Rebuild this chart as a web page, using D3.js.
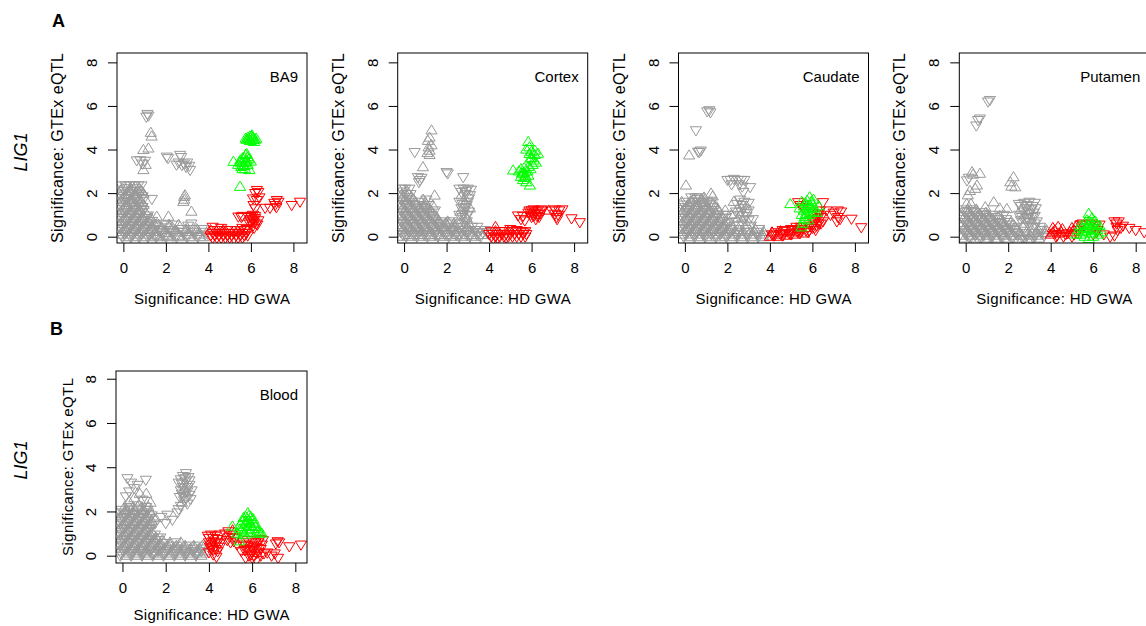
<!DOCTYPE html>
<meta charset="utf-8">
<head>
<title>LIG1: GTEx eQTL vs HD GWA</title>
<script src="https://cdn.jsdelivr.net/npm/d3@7"></script>
<style>
  body { margin: 0; background: #fff; }
  svg { display: block; font-family: Arial, "Liberation Sans", sans-serif; }
  .tick text { font-size: 15px; fill: #000; }
  .tick line { stroke: #000; }
</style>
</head>
<body>
<div id="chart"></div>
<script>
// points: [HD GWA significance, GTEx eQTL significance, 1 = up triangle / 0 = down triangle]
var ticks = [0, 2, 4, 6, 8];
var tissues = ["BA9", "Cortex", "Caudate", "Putamen", "Blood"];

var ba9Gray = [
  [1.13,5.63,0],[1.18,5.55,0],[1.08,5.5,0],[1.29,4.77,1],[1.33,4.6,1],[0.94,3.98,1],[1.18,4.05,1],
  [0.63,3.5,0],[0.8,3.5,0],[1.02,3.48,0],[0.9,3.35,0],[1.05,3.3,1],[0.94,3.06,1],
  [2.04,3.67,0],[2.1,3.6,0],[2.67,3.75,0],[2.72,3.65,0],[2.6,3.4,0],[2.75,3.29,0],[2.85,3.35,0],
  [2.95,3.2,0],[3.0,3.4,0],[3.14,3.06,0],[3.1,3.25,0],[2.5,3.3,0],
  [2.86,1.83,1],[2.86,1.7,1],[2.9,1.9,1],[2.82,1.6,1],[3.2,1.15,1],[1.57,0.92,1],[2.12,0.92,1],[1.34,1.73,0],
  [-0.1,2.35,0],[0.1,2.35,0],[0.3,2.35,0],[0.5,2.35,0],[0.7,2.35,0],[0.85,2.35,0],
  [-0.15,2.1,1],[0.05,2.1,0],[0.25,2.1,1],[0.45,2.1,0],[0.65,2.1,0],[0.85,2.1,1],
  [-0.1,1.85,0],[0.1,1.85,1],[0.3,1.85,0],[0.5,1.85,1],[0.7,1.85,0],[0.9,1.85,0],
  [-0.15,1.6,1],[0.05,1.6,0],[0.25,1.6,0],[0.45,1.6,1],[0.65,1.6,0],[0.85,1.6,1],
  [-0.1,1.35,0],[0.1,1.35,1],[0.3,1.35,0],[0.5,1.35,0],[0.7,1.35,1],[0.9,1.35,0],
  [-0.15,1.1,1],[0.05,1.1,0],[0.25,1.1,1],[0.45,1.1,0],[0.65,1.1,1],[0.85,1.1,0],[1.05,1.1,1],
  [-0.1,0.85,0],[0.1,0.85,1],[0.3,0.85,0],[0.5,0.85,1],[0.7,0.85,0],[0.9,0.85,1],[1.1,0.85,0],[1.3,0.85,1],
  [-0.15,0.6,1],[0.05,0.6,0],[0.25,0.6,1],[0.45,0.6,0],[0.65,0.6,1],[0.85,0.6,0],[1.05,0.6,1],[1.25,0.6,0],[1.45,0.6,1],
  [-0.1,0.35,0],[0.1,0.35,1],[0.3,0.35,0],[0.5,0.35,1],[0.7,0.35,0],[0.9,0.35,1],[1.1,0.35,0],[1.3,0.35,1],[1.5,0.35,0],
  [-0.15,0.1,1],[0.05,0.1,0],[0.25,0.1,1],[0.45,0.1,0],[0.65,0.1,1],[0.85,0.1,0],[1.05,0.1,1],[1.25,0.1,0],[1.45,0.1,1],
  [1.65,0.55,1],[1.9,0.55,0],[2.15,0.55,1],[2.4,0.55,0],[1.7,0.3,0],[1.95,0.3,1],[2.2,0.3,0],[2.45,0.3,1],
  [1.6,0.05,1],[1.85,0.05,0],[2.1,0.05,1],[2.35,0.05,0],[2.6,0.05,1],
  [2.7,0.35,0],[2.95,0.35,1],[3.2,0.35,0],[3.45,0.35,1],[3.7,0.35,0],
  [2.85,0.1,0],[3.1,0.1,1],[3.35,0.1,0],[3.6,0.1,1],[3.85,0.1,0],[3.2,0.6,0],[3.05,0.5,0],[2.6,0.55,1]
];
var ba9GrayFill = [
  [-0.05,2.22,1],[0.15,2.22,0],[0.35,2.22,1],[0.55,2.22,0],[0.75,2.22,1],
  [-0.05,1.97,0],[0.15,1.97,1],[0.35,1.97,0],[0.55,1.97,1],[0.75,1.97,0],[0.95,1.97,1],
  [-0.05,1.72,1],[0.15,1.72,0],[0.35,1.72,1],[0.55,1.72,0],[0.75,1.72,1],[0.95,1.72,0],
  [-0.05,1.47,0],[0.15,1.47,1],[0.35,1.47,0],[0.55,1.47,1],[0.75,1.47,0],[0.95,1.47,1],
  [-0.05,1.22,1],[0.15,1.22,0],[0.35,1.22,1],[0.55,1.22,0],[0.75,1.22,1],[0.95,1.22,0],
  [-0.05,0.97,0],[0.15,0.97,1],[0.35,0.97,0],[0.55,0.97,1],[0.75,0.97,0],[0.95,0.97,1],[1.15,0.97,0],
  [-0.05,0.72,1],[0.15,0.72,0],[0.35,0.72,1],[0.55,0.72,0],[0.75,0.72,1],[0.95,0.72,0],[1.15,0.72,1],[1.35,0.72,0],
  [-0.05,0.47,0],[0.15,0.47,1],[0.35,0.47,0],[0.55,0.47,1],[0.75,0.47,0],[0.95,0.47,1],[1.15,0.47,0],[1.35,0.47,1],[1.55,0.47,0],
  [1.8,0.42,1],[2.05,0.42,0],[2.3,0.42,1],
  [-0.05,0.22,1],[0.15,0.22,0],[0.35,0.22,1],[0.55,0.22,0],[0.75,0.22,1],[0.95,0.22,0],[1.15,0.22,1],[1.35,0.22,0],[1.55,0.22,1],
  [1.8,0.18,0],[2.05,0.18,1],[2.3,0.18,0],[2.55,0.2,1],[2.8,0.22,0],[3.05,0.22,1],[3.3,0.22,0],[3.55,0.22,1],[3.8,0.22,0],
  [-0.05,-0.02,0],[0.15,-0.02,1],[0.35,-0.02,0],[0.55,-0.02,1],[0.75,-0.02,0],[0.95,-0.02,1],[1.15,-0.02,0],[1.35,-0.02,1],[1.55,-0.02,0],
  [1.75,-0.02,1],[2.0,-0.02,0],[2.25,-0.02,1],[2.5,-0.02,0],[2.75,-0.02,1],[3.0,-0.02,0],[3.25,-0.02,1],[3.5,-0.02,0],[3.75,-0.02,1]
];
var ba9Red = [
  [4.1,0.05,0],[4.3,0.05,0],[4.5,0.05,0],[4.7,0.05,0],[4.9,0.05,0],[5.1,0.05,0],[5.3,0.05,0],[5.5,0.05,0],[5.7,0.05,0],[5.85,0.05,0],
  [4.1,0.3,1],[4.3,0.3,0],[4.5,0.3,0],[4.7,0.3,1],[4.9,0.3,0],[5.1,0.3,0],[5.3,0.3,0],[5.5,0.3,0],[5.7,0.3,0],[5.85,0.3,0],
  [4.2,0.45,0],[4.6,0.4,0],[5.0,-0.05,0],[5.2,-0.1,0],[5.6,0.4,0],[5.8,0.35,0],
  [5.9,0.9,0],[6.0,0.7,0],[6.1,0.5,0],[6.2,0.85,0],[6.25,0.6,0],[6.1,1.0,0],[6.35,0.75,0],[6.0,0.95,0],[6.15,0.4,0],[6.3,0.55,0],
  [5.41,0.92,0],[5.55,0.9,0],[5.6,0.95,0],
  [6.28,2.14,0],[6.2,2.0,0],[6.35,2.05,0],[6.28,1.68,0],[6.1,1.75,0],[6.4,1.8,0],[6.12,1.45,0],[6.2,1.3,0],
  [6.67,1.32,0],[6.9,1.32,0],[7.22,1.68,0],[7.14,1.45,0],[7.3,1.6,0],[7.1,1.55,0],[7.2,1.35,0],[7.92,1.45,0],[8.31,1.6,0],
  [4.2,0.17,0],[4.4,0.17,0],[4.6,0.17,0],[4.8,0.17,0],[5.0,0.17,0],[5.2,0.17,0],[5.4,0.17,0],[5.6,0.17,0],[5.8,0.17,0],
  [4.2,-0.05,0],[4.4,-0.05,0],[4.6,-0.05,0],[4.8,-0.05,0],[5.4,-0.05,0],[5.6,-0.05,0],
  [6.05,0.8,0],[6.15,0.65,0],[5.95,0.6,0],[6.2,0.95,0],[6.1,0.75,0]
];
var ba9Green = [
  [6.04,4.59,1],[5.9,4.5,1],[6.1,4.55,1],[6.2,4.45,1],[5.8,4.45,1],[6.0,4.4,1],[6.15,4.35,1],[5.95,4.6,1],[6.05,4.65,1],[6.25,4.5,1],[5.75,4.5,1],
  [5.18,3.44,1],[5.4,3.3,1],[5.5,3.5,1],[5.6,3.4,1],[5.7,3.6,1],[5.75,3.75,1],[5.8,3.5,1],[5.65,3.25,1],[5.85,3.3,1],[5.9,3.55,1],
  [5.55,3.2,1],[5.93,3.06,1],[5.72,3.1,1],[5.8,3.8,1],[6.0,3.45,1],[5.49,2.29,1],
  [5.85,4.55,1],[6.1,4.45,1],[5.95,4.4,1],[5.5,3.4,1],[5.6,3.6,1],[5.75,3.4,1],[5.85,3.65,1],[5.7,3.25,1],[5.6,3.1,1]
];

var cortexGray = [
  [1.29,4.88,1],[1.12,4.4,1],[1.2,4.55,1],[1.29,4.2,1],[1.15,4.1,1],[1.2,3.95,1],[1.1,3.84,1],[1.2,3.75,1],[0.5,3.88,0],[0.89,3.19,1],
  [0.65,2.73,0],[0.75,2.6,0],[0.82,2.7,0],[0.7,2.5,0],[2.0,2.96,0],[2.05,2.9,0],[2.78,2.73,0],[1.44,1.89,1],[1.35,1.43,1],
  [2.6,2.2,0],[2.8,2.2,0],[3.0,2.2,0],[3.15,2.15,0],[2.7,1.9,1],[2.9,1.95,0],[3.1,1.9,0],[2.6,1.6,0],[2.8,1.65,1],[3.0,1.6,0],
  [2.7,1.3,0],[2.9,1.35,0],[3.1,1.3,1],[2.6,1.0,0],[2.8,1.05,0],[3.0,1.0,0],[2.7,0.75,1],[2.95,0.7,0],
  [-0.15,2.2,0],[0.05,2.2,0],[0.25,2.2,0],[-0.1,1.95,1],[0.1,1.95,0],[0.3,1.95,0],
  [-0.15,1.7,0],[0.05,1.7,1],[0.25,1.7,0],[0.45,1.7,1],[0.9,1.7,1],[1.05,1.7,0],
  [-0.1,1.45,1],[0.1,1.45,0],[0.3,1.45,1],[0.5,1.45,0],[0.7,1.45,0],[0.95,1.45,1],[1.15,1.45,0],
  [-0.15,1.2,0],[0.05,1.2,1],[0.25,1.2,0],[0.45,1.2,1],[0.65,1.2,0],[0.85,1.2,1],[1.05,1.2,0],[1.25,1.2,1],[1.45,1.2,0],
  [-0.1,0.95,1],[0.1,0.95,0],[0.3,0.95,1],[0.5,0.95,0],[0.7,0.95,1],[0.9,0.95,0],[1.1,0.95,1],[1.3,0.95,0],[1.5,0.95,1],
  [-0.15,0.7,0],[0.05,0.7,1],[0.25,0.7,0],[0.45,0.7,1],[0.65,0.7,0],[0.85,0.7,1],[1.05,0.7,0],[1.25,0.7,1],[1.45,0.7,0],[1.65,0.7,1],[1.85,0.7,0],[2.05,0.7,1],[2.25,0.7,0],
  [-0.1,0.45,1],[0.1,0.45,0],[0.3,0.45,1],[0.5,0.45,0],[0.7,0.45,1],[0.9,0.45,0],[1.1,0.45,1],[1.3,0.45,0],[1.5,0.45,1],[1.7,0.45,0],[1.9,0.45,1],[2.1,0.45,0],[2.3,0.45,1],[2.5,0.45,0],
  [2.7,0.45,0],[2.95,0.45,1],[3.2,0.45,0],[3.45,0.45,0],
  [-0.15,0.2,0],[0.05,0.2,1],[0.25,0.2,0],[0.45,0.2,1],[0.65,0.2,0],[0.85,0.2,1],[1.05,0.2,0],[1.25,0.2,1],[1.45,0.2,0],[1.65,0.2,1],
  [1.85,0.2,0],[2.05,0.2,1],[2.25,0.2,0],[2.45,0.2,1],[2.7,0.2,0],[2.95,0.2,0],[3.2,0.2,1],[3.45,0.2,0],[3.7,0.2,0],[3.9,0.2,0],
  [-0.1,0.0,1],[0.1,0.0,0],[0.35,0.0,1],[0.6,0.0,0],[0.85,0.0,1],[1.1,0.0,0],[1.35,0.0,1],[1.6,0.0,0],[1.85,0.0,1],[2.1,0.0,0],
  [2.35,0.0,1],[2.6,0.0,0],[2.85,0.0,1],[3.1,0.0,0],[3.35,0.0,1],[3.6,0.0,0]
];
var cortexGrayFill = [
  [-0.05,2.07,0],[0.15,2.07,1],[-0.05,1.82,1],[0.15,1.82,0],[0.35,1.82,1],
  [-0.05,1.57,0],[0.15,1.57,1],[0.35,1.57,0],[0.55,1.57,1],[0.8,1.6,0],[1.0,1.57,1],
  [-0.05,1.32,1],[0.15,1.32,0],[0.35,1.32,1],[0.55,1.32,0],[0.75,1.32,1],[0.95,1.32,0],[1.15,1.32,1],
  [-0.05,1.07,0],[0.15,1.07,1],[0.35,1.07,0],[0.55,1.07,1],[0.75,1.07,0],[0.95,1.07,1],[1.15,1.07,0],[1.35,1.07,1],
  [-0.05,0.82,1],[0.15,0.82,0],[0.35,0.82,1],[0.55,0.82,0],[0.75,0.82,1],[0.95,0.82,0],[1.15,0.82,1],[1.35,0.82,0],[1.55,0.82,1],
  [1.75,0.6,0],[1.95,0.6,1],[2.15,0.6,0],[2.35,0.6,1],
  [-0.05,0.57,0],[0.15,0.57,1],[0.35,0.57,0],[0.55,0.57,1],[0.75,0.57,0],[0.95,0.57,1],[1.15,0.57,0],[1.35,0.57,1],[1.55,0.57,0],
  [-0.05,0.32,1],[0.15,0.32,0],[0.35,0.32,1],[0.55,0.32,0],[0.75,0.32,1],[0.95,0.32,0],[1.15,0.32,1],[1.35,0.32,0],[1.55,0.32,1],
  [1.75,0.32,0],[1.95,0.32,1],[2.15,0.32,0],[2.35,0.32,1],[2.6,0.32,0],[2.85,0.3,0],[3.1,0.3,1],[3.35,0.3,0],[3.6,0.3,0],[3.8,0.3,0],
  [-0.05,0.08,0],[0.2,0.08,1],[0.45,0.08,0],[0.7,0.08,1],[0.95,0.08,0],[1.2,0.08,1],[1.45,0.08,0],[1.7,0.08,1],[1.95,0.08,0],
  [2.2,0.08,1],[2.45,0.08,0],[2.7,0.08,1],[2.95,0.08,0],[3.2,0.08,1],[3.45,0.08,0],[3.7,0.08,1],
  [2.7,2.05,0],[2.9,2.1,0],[3.05,1.75,0],[2.75,1.5,0],[2.95,1.45,0],[2.65,1.15,1],[2.85,1.2,0],[3.05,1.15,0],[2.75,0.9,0],[2.95,0.85,1],
  [2.6,0.6,0],[2.85,0.6,0],[3.05,0.6,1]
];
var cortexRed = [
  [4.1,0.0,0],[4.3,0.0,0],[4.5,0.0,0],[4.7,0.0,0],[4.9,0.0,0],[5.1,0.0,0],[5.3,0.0,0],[5.5,0.0,0],[5.7,0.0,0],
  [4.1,0.25,0],[4.3,0.25,1],[4.5,0.25,0],[4.7,0.25,0],[4.9,0.25,1],[5.1,0.25,0],[5.3,0.25,0],[5.5,0.25,0],[5.7,0.25,0],
  [4.3,0.45,1],[4.2,-0.1,0],[5.0,0.35,0],[5.3,0.3,0],[5.6,0.2,0],
  [5.36,0.97,0],[5.5,0.8,0],[5.6,0.95,0],[5.68,0.74,0],
  [5.85,1.1,0],[6.0,1.2,0],[6.15,1.06,0],[6.3,1.2,0],[6.4,1.05,0],[6.0,0.9,0],[6.2,0.8,0],[6.1,1.25,0],[6.35,0.9,0],[5.95,1.0,0],[6.25,0.95,0],[6.5,1.2,0],
  [6.8,1.2,1],[6.95,1.2,0],[7.1,1.25,0],[7.3,1.2,0],[7.45,1.25,0],[7.18,0.9,0],[7.1,1.05,0],[7.25,1.0,0],[7.2,0.8,0],[7.88,0.84,0],[8.27,0.66,0],
  [4.0,0.12,0],[4.2,0.12,0],[4.4,0.12,0],[4.6,0.12,0],[4.8,0.12,0],[5.0,0.12,0],[5.2,0.12,0],[5.4,0.12,0],[5.6,0.12,0],[5.75,0.12,0],
  [4.4,-0.08,0],[4.8,-0.05,0],[6.05,1.1,0],[6.2,1.15,0],[6.1,0.95,0],[6.3,1.05,0],[5.9,1.2,0],[6.45,1.25,0]
];
var cortexGreen = [
  [5.84,4.35,1],[5.9,4.1,1],[5.75,4.0,1],[6.0,3.9,1],[6.3,3.81,1],[6.15,3.75,1],[5.95,3.6,1],[6.1,3.5,1],[6.05,3.3,1],[5.85,3.2,1],[5.13,3.04,1],
  [5.4,3.0,1],[5.6,2.9,1],[5.5,2.75,1],[5.7,2.8,1],[5.8,3.0,1],[5.6,2.6,1],[5.75,2.5,1],[5.92,2.35,1],[5.5,3.1,1],[6.2,3.4,1],[5.65,3.15,1],
  [5.7,2.7,1],[5.55,2.9,1],[5.85,2.8,1],[5.95,3.1,1],[6.0,3.6,1],[5.9,3.8,1],[6.15,3.95,1],[5.65,2.95,1]
];

var caudateGray = [
  [1.15,5.8,0],[1.05,5.75,0],[1.2,5.7,0],[0.52,4.88,0],[0.2,3.73,1],[0.68,3.88,0],[0.62,3.9,0],[0.75,3.95,0],[0.05,2.35,1],
  [2.0,2.6,0],[2.15,2.6,0],[2.3,2.65,0],[2.5,2.6,0],[2.65,2.6,0],[2.8,2.6,0],[2.2,2.4,0],[2.55,2.4,0],[2.7,2.3,0],[3.07,2.27,0],[2.75,2.05,0],
  [1.23,1.98,1],[1.31,1.85,1],
  [2.3,1.6,1],[2.6,1.7,0],[2.8,1.6,0],[3.0,1.55,0],[2.5,1.3,1],[2.75,1.3,0],[3.0,1.2,0],[2.2,1.0,1],[2.6,1.0,0],[2.9,0.95,0],
  [2.4,0.7,0],[2.7,0.6,0],[3.1,0.5,0],[2.85,0.35,0],[1.9,1.2,1],[2.0,1.0,0],[1.8,1.0,0],
  [0.3,1.8,0],[0.5,1.8,0],[0.7,1.8,0],[0.9,1.8,1],
  [-0.15,1.6,1],[0.05,1.6,0],[0.25,1.6,1],[0.45,1.6,0],[0.65,1.6,0],[0.85,1.6,1],[1.05,1.6,0],[1.25,1.6,0],
  [-0.1,1.35,0],[0.1,1.35,1],[0.3,1.35,0],[0.5,1.35,1],[0.7,1.35,0],[0.9,1.35,0],[1.1,1.35,1],[1.3,1.35,0],[1.5,1.35,1],
  [-0.15,1.1,1],[0.05,1.1,0],[0.25,1.1,1],[0.45,1.1,0],[0.65,1.1,1],[0.85,1.1,0],[1.05,1.1,1],[1.25,1.1,0],[1.45,1.1,1],
  [-0.1,0.85,0],[0.1,0.85,1],[0.3,0.85,0],[0.5,0.85,1],[0.7,0.85,0],[0.9,0.85,1],[1.1,0.85,0],[1.3,0.85,1],[1.5,0.85,0],[1.7,0.85,1],[1.9,0.85,0],
  [-0.15,0.6,1],[0.05,0.6,0],[0.25,0.6,1],[0.45,0.6,0],[0.65,0.6,1],[0.85,0.6,0],[1.05,0.6,1],[1.25,0.6,0],[1.45,0.6,1],[1.65,0.6,0],[1.85,0.6,1],[2.05,0.6,0],
  [-0.1,0.35,0],[0.1,0.35,1],[0.3,0.35,0],[0.5,0.35,1],[0.7,0.35,0],[0.9,0.35,1],[1.1,0.35,0],[1.3,0.35,1],[1.5,0.35,0],[1.7,0.35,1],
  [1.9,0.35,0],[2.1,0.35,1],[2.3,0.35,0],[3.3,0.35,1],[3.5,0.35,0],
  [-0.15,0.1,1],[0.05,0.1,0],[0.25,0.1,1],[0.45,0.1,0],[0.65,0.1,1],[0.85,0.1,0],[1.05,0.1,1],[1.25,0.1,0],[1.45,0.1,1],[1.65,0.1,0],
  [1.85,0.1,1],[2.05,0.1,0],[2.25,0.1,1],[2.45,0.1,0],[2.65,0.1,1],[2.9,0.1,0],[3.15,0.1,1],[3.4,0.1,0],[3.65,0.1,1],[3.85,0.1,0]
];
var caudateGrayFill = [
  [0.4,1.72,1],[0.6,1.72,0],[0.8,1.72,1],
  [-0.05,1.47,0],[0.15,1.47,1],[0.35,1.47,0],[0.55,1.47,1],[0.75,1.47,0],[0.95,1.47,1],[1.15,1.47,0],[1.35,1.47,1],
  [-0.05,1.22,1],[0.15,1.22,0],[0.35,1.22,1],[0.55,1.22,0],[0.75,1.22,1],[0.95,1.22,0],[1.15,1.22,1],[1.35,1.22,0],[1.55,1.22,1],
  [-0.05,0.97,0],[0.15,0.97,1],[0.35,0.97,0],[0.55,0.97,1],[0.75,0.97,0],[0.95,0.97,1],[1.15,0.97,0],[1.35,0.97,1],[1.55,0.97,0],
  [-0.05,0.72,1],[0.15,0.72,0],[0.35,0.72,1],[0.55,0.72,0],[0.75,0.72,1],[0.95,0.72,0],[1.15,0.72,1],[1.35,0.72,0],[1.55,0.72,1],[1.75,0.72,0],[1.95,0.72,1],
  [-0.05,0.47,0],[0.15,0.47,1],[0.35,0.47,0],[0.55,0.47,1],[0.75,0.47,0],[0.95,0.47,1],[1.15,0.47,0],[1.35,0.47,1],[1.55,0.47,0],[1.75,0.47,1],[1.95,0.47,0],[2.15,0.47,1],
  [-0.05,0.22,1],[0.15,0.22,0],[0.35,0.22,1],[0.55,0.22,0],[0.75,0.22,1],[0.95,0.22,0],[1.15,0.22,1],[1.35,0.22,0],[1.55,0.22,1],[1.75,0.22,0],
  [1.95,0.22,1],[2.15,0.22,0],[2.35,0.22,1],[2.55,0.22,0],[2.75,0.22,1],[3.0,0.22,0],[3.25,0.22,1],[3.45,0.22,0],[3.7,0.22,1],
  [-0.05,-0.02,0],[0.2,-0.02,1],[0.45,-0.02,0],[0.7,-0.02,1],[0.95,-0.02,0],[1.2,-0.02,1],[1.45,-0.02,0],[1.7,-0.02,1],[1.95,-0.02,0],
  [2.2,-0.02,1],[2.45,-0.02,0],[2.7,-0.02,1],[2.95,-0.02,0],[3.2,-0.02,1],[3.45,-0.02,0],[3.7,-0.02,1],
  [2.45,1.5,0],[2.7,1.45,0],[2.9,1.4,1],[2.4,1.15,0],[2.65,1.15,0],[2.85,1.1,0],[2.5,0.85,1],[2.75,0.8,0],[3.0,0.75,0],[2.55,0.5,0],[2.9,0.55,1],[3.2,0.8,0]
];
var caudateRed = [
  [4.0,0.0,1],[4.2,0.05,0],[4.4,0.0,1],[4.6,0.05,0],[4.8,0.05,1],[5.0,0.1,0],[5.2,0.1,1],[5.4,0.15,0],[5.6,0.15,1],[5.8,0.2,0],
  [4.1,0.2,1],[4.3,0.2,0],[4.5,0.25,1],[4.7,0.25,0],[4.9,0.25,1],[5.1,0.3,0],[5.3,0.35,1],[5.5,0.35,0],[5.7,0.4,1],[5.25,0.45,0],
  [5.33,1.58,0],[5.45,1.45,0],[5.56,1.35,0],
  [5.9,0.5,0],[6.0,0.8,0],[6.1,0.4,0],[6.2,1.0,0],[6.3,0.6,0],[6.4,0.9,0],[6.0,1.1,0],[6.5,0.7,0],[6.15,0.3,0],[6.35,1.2,0],[6.05,0.6,0],
  [6.5,1.58,0],[6.66,1.2,0],[6.85,1.0,0],[7.0,1.1,0],[7.2,1.2,0],[7.35,1.15,0],[7.2,0.9,0],[7.3,0.8,0],[7.15,0.7,0],[7.84,0.82,0],[8.3,0.43,0],
  [4.1,0.1,0],[4.3,0.1,1],[4.5,0.12,0],[4.7,0.15,0],[4.9,0.15,0],[5.1,0.2,1],[5.3,0.22,0],[5.5,0.25,0],[5.7,0.28,0],[5.85,0.3,0],
  [4.6,0.3,0],[5.0,0.35,0],[5.45,0.45,0],[6.1,0.7,0],[6.25,0.85,0],[6.2,0.5,0],[6.4,0.6,0],[6.0,0.4,0],[6.3,1.05,0]
];
var caudateGreen = [
  [4.96,1.5,1],[5.4,1.3,1],[5.5,1.6,1],[5.6,1.2,1],[5.7,1.5,1],[5.87,1.81,1],[5.8,1.4,1],[5.9,1.1,1],[6.0,1.5,1],[6.1,1.3,1],
  [6.2,1.1,1],[5.65,0.9,1],[5.8,0.75,1],[5.5,1.0,1],[5.48,0.43,1],[5.55,0.6,1],[6.05,1.7,1],[5.75,1.65,1],[6.3,1.4,1],
  [5.6,1.4,1],[5.75,1.25,1],[5.95,1.3,1],[5.85,1.0,1],[5.7,1.05,1],[6.05,1.15,1],[5.6,0.8,1],[5.95,1.6,1]
];

var putamenGray = [
  [1.14,6.27,0],[1.05,6.2,0],[0.67,5.42,0],[0.58,5.35,0],[0.5,5.1,0],
  [0.3,2.96,1],[0.35,2.85,1],[0.67,2.89,1],[0.06,2.58,0],[0.15,2.7,0],[0.53,2.35,1],[0.45,2.2,1],[0.1,1.9,1],[0.2,2.1,1],
  [2.25,2.73,1],[2.1,2.5,1],[2.33,2.27,1],[2.15,2.3,1],[1.32,1.58,1],[0.92,1.35,1],[1.94,1.27,1],[1.6,1.3,1],
  [0.05,1.5,1],[0.25,1.5,1],[-0.1,1.25,0],[0.1,1.25,1],[0.3,1.25,0],[0.5,1.25,1],
  [-0.15,1.0,1],[0.05,1.0,0],[0.25,1.0,1],[0.45,1.0,0],[0.65,1.0,1],[0.85,1.0,0],[1.05,1.0,1],[1.25,1.0,0],
  [-0.1,0.8,0],[0.1,0.8,1],[0.3,0.8,0],[0.5,0.8,1],[0.7,0.8,0],[0.9,0.8,1],[1.1,0.8,0],[1.3,0.8,1],[1.5,0.8,0],[1.7,0.8,1],[1.9,0.8,0],
  [-0.15,0.55,1],[0.05,0.55,0],[0.25,0.55,1],[0.45,0.55,0],[0.65,0.55,1],[0.85,0.55,0],[1.05,0.55,1],[1.25,0.55,0],[1.45,0.55,1],
  [1.65,0.55,0],[1.85,0.55,1],[2.05,0.55,0],[2.25,0.55,1],
  [-0.1,0.3,0],[0.1,0.3,1],[0.3,0.3,0],[0.5,0.3,1],[0.7,0.3,0],[0.9,0.3,1],[1.1,0.3,0],[1.3,0.3,1],[1.5,0.3,0],[1.7,0.3,1],
  [1.9,0.3,0],[2.1,0.3,1],[2.3,0.3,0],[3.4,0.3,1],[3.6,0.3,0],[3.8,0.3,1],
  [-0.15,0.05,1],[0.05,0.05,0],[0.25,0.05,1],[0.45,0.05,0],[0.65,0.05,1],[0.85,0.05,0],[1.05,0.05,1],[1.25,0.05,0],[1.45,0.05,1],[1.65,0.05,0],
  [1.85,0.05,1],[2.05,0.05,0],[2.25,0.05,1],[2.45,0.05,0],[2.65,0.05,1],[2.85,0.05,0],[3.05,0.05,1],[3.25,0.05,0],[3.45,0.05,1],[3.7,0.05,0],
  [2.5,1.5,0],[2.75,1.55,0],[3.0,1.6,0],[3.25,1.55,0],[2.6,1.25,1],[2.85,1.3,0],[3.1,1.25,0],[3.3,1.3,0],[2.5,1.0,0],[2.75,1.0,1],
  [3.0,1.05,0],[3.25,0.95,0],[2.6,0.75,0],[2.85,0.7,0],[3.1,0.75,1],[3.35,0.7,0],[2.7,0.45,0],[3.0,0.5,0],[3.25,0.45,0],[2.8,-0.1,0]
];
var putamenGrayFill = [
  [-0.05,1.12,0],[0.15,1.12,1],[0.35,1.12,0],[0.55,1.12,1],[0.75,1.12,0],[0.95,1.1,1],
  [-0.05,0.9,1],[0.15,0.9,0],[0.35,0.9,1],[0.55,0.9,0],[0.75,0.9,1],[0.95,0.9,0],[1.15,0.9,1],[1.35,0.9,0],[1.6,0.95,1],[1.8,1.0,0],
  [-0.05,0.67,0],[0.15,0.67,1],[0.35,0.67,0],[0.55,0.67,1],[0.75,0.67,0],[0.95,0.67,1],[1.15,0.67,0],[1.35,0.67,1],[1.55,0.67,0],
  [1.75,0.67,1],[1.95,0.67,0],[2.15,0.67,1],
  [-0.05,0.42,1],[0.15,0.42,0],[0.35,0.42,1],[0.55,0.42,0],[0.75,0.42,1],[0.95,0.42,0],[1.15,0.42,1],[1.35,0.42,0],[1.55,0.42,1],
  [1.75,0.42,0],[1.95,0.42,1],[2.15,0.42,0],[2.35,0.42,1],[3.5,0.45,0],
  [-0.05,0.17,0],[0.15,0.17,1],[0.35,0.17,0],[0.55,0.17,1],[0.75,0.17,0],[0.95,0.17,1],[1.15,0.17,0],[1.35,0.17,1],[1.55,0.17,0],[1.75,0.17,1],
  [1.95,0.17,0],[2.15,0.17,1],[2.35,0.17,0],[2.55,0.17,1],[2.75,0.17,0],[2.95,0.17,1],[3.15,0.17,0],[3.35,0.17,1],[3.55,0.17,0],[3.75,0.17,1],
  [-0.05,-0.08,1],[0.2,-0.08,0],[0.45,-0.08,1],[0.7,-0.08,0],[0.95,-0.08,1],[1.2,-0.08,0],[1.45,-0.08,1],[1.7,-0.08,0],
  [1.95,-0.08,1],[2.2,-0.08,0],[2.45,-0.08,1],[2.7,-0.08,0],[2.95,-0.08,1],[3.2,-0.08,0],[3.45,-0.08,1],
  [2.6,1.4,0],[2.9,1.45,0],[3.15,1.4,0],[2.7,1.15,0],[2.95,1.15,1],[3.2,1.1,0],[2.65,0.9,0],[2.9,0.85,0],[3.15,0.9,0],[2.75,0.6,1],[3.0,0.65,0],[3.25,0.6,0]
];
var putamenRed = [
  [4.0,0.1,1],[4.2,0.3,1],[4.3,0.05,0],[4.5,0.2,1],[4.6,0.0,0],[4.8,0.15,0],[4.1,0.4,1],[4.35,0.45,1],
  [4.9,0.2,1],[5.0,0.4,1],[5.1,0.1,0],[5.2,0.5,1],[5.3,0.3,0],[5.4,0.55,0],[5.0,0.0,0],
  [5.5,0.6,0],[5.7,0.55,0],[5.9,0.6,0],[6.1,0.5,0],[6.3,0.55,0],[6.2,0.3,0],[6.0,0.1,0],
  [6.5,0.1,0],[6.8,0.0,0],[7.0,0.05,0],[7.0,0.7,0],[7.1,0.6,0],[7.2,0.7,0],[7.3,0.4,0],[7.15,0.3,0],[7.4,0.5,0],
  [7.7,0.4,0],[8.0,0.3,0],[8.4,0.2,0],
  [4.1,0.2,1],[4.4,0.15,1],[4.7,0.1,0],[4.25,0.0,0],[4.55,0.35,1],[5.1,0.3,1],[5.25,0.15,0],[5.35,0.45,1],[6.0,0.4,0],[6.15,0.2,0],[7.1,0.45,0]
];
var putamenGreen = [
  [5.79,1.05,1],[5.3,0.3,1],[5.4,0.5,1],[5.5,0.2,1],[5.6,0.6,1],[5.7,0.35,1],[5.8,0.7,1],[5.9,0.15,1],[6.0,0.5,1],
  [6.1,0.7,1],[6.2,0.3,1],[6.3,0.5,1],[5.6,0.0,1],[5.8,-0.1,1],[6.0,0.0,1],[5.2,0.1,1],[6.4,0.2,1],[5.95,0.85,1],
  [5.5,0.4,1],[5.65,0.25,1],[5.75,0.5,1],[5.85,0.35,1],[6.05,0.25,1],[6.15,0.55,1],[5.95,0.6,1],[5.7,0.75,1],[5.4,0.1,1],[6.25,0.1,1]
];

var bloodGray = [
  [0.23,3.5,0],[1.08,3.43,0],[0.31,2.9,0],[0.54,3.05,0],[0.16,2.68,0],[0.93,2.53,0],[0.7,3.2,0],[0.4,3.3,0],
  [0.55,2.6,1],[0.85,2.45,1],[1.1,2.8,1],[1.3,2.4,1],[0.3,2.45,1],[0.8,2.8,1],
  [2.08,1.85,0],[2.31,1.62,0],[2.0,1.47,0],[1.8,1.75,0],
  [2.94,3.73,0],[2.8,3.6,0],[3.05,3.55,0],[2.6,3.3,0],[2.75,3.25,0],[2.9,3.35,0],[3.1,3.2,0],[2.7,2.95,0],[2.85,3.0,1],[3.0,2.9,0],
  [3.2,2.95,0],[2.65,2.65,0],[2.8,2.7,0],[2.95,2.6,0],[3.15,2.55,0],[2.75,2.4,1],[3.0,2.35,0],[2.6,2.1,0],[2.55,1.95,0],
  [0.1,2.2,1],[0.3,2.2,0],[0.5,2.2,1],[0.7,2.2,1],[0.9,2.2,1],[1.1,2.2,0],[1.2,2.2,1],
  [-0.1,1.95,0],[0.1,1.95,1],[0.3,1.95,0],[0.5,1.95,1],[0.7,1.95,0],[0.9,1.95,1],[1.1,1.95,0],[1.3,1.95,1],
  [-0.15,1.7,1],[0.05,1.7,0],[0.25,1.7,1],[0.45,1.7,0],[0.65,1.7,1],[0.85,1.7,0],[1.05,1.7,1],[1.25,1.7,0],[1.45,1.7,1],
  [-0.1,1.45,0],[0.1,1.45,1],[0.3,1.45,0],[0.5,1.45,1],[0.7,1.45,0],[0.9,1.45,1],[1.1,1.45,0],[1.3,1.45,1],[1.5,1.45,0],
  [-0.15,1.2,1],[0.05,1.2,0],[0.25,1.2,1],[0.45,1.2,0],[0.65,1.2,1],[0.85,1.2,0],[1.05,1.2,1],[1.25,1.2,0],
  [-0.1,0.95,0],[0.1,0.95,1],[0.3,0.95,0],[0.5,0.95,1],[0.7,0.95,0],[0.9,0.95,1],[1.1,0.95,0],[1.3,0.95,1],[1.5,0.95,0],
  [-0.15,0.7,1],[0.05,0.7,0],[0.25,0.7,1],[0.45,0.7,0],[0.65,0.7,1],[0.85,0.7,0],[1.05,0.7,1],[1.25,0.7,0],[1.45,0.7,1],[1.65,0.7,0],[1.85,0.7,1],
  [-0.1,0.45,0],[0.1,0.45,1],[0.3,0.45,0],[0.5,0.45,1],[0.7,0.45,0],[0.9,0.45,1],[1.1,0.45,0],[1.3,0.45,1],[1.5,0.45,0],[1.7,0.45,1],
  [1.9,0.45,0],[2.1,0.45,1],[2.3,0.45,0],[2.5,0.45,1],[2.7,0.45,0],[2.9,0.45,1],[3.1,0.45,0],[3.3,0.45,1],[3.5,0.45,0],[3.7,0.45,1],
  [-0.15,0.2,1],[0.05,0.2,0],[0.25,0.2,1],[0.45,0.2,0],[0.65,0.2,1],[0.85,0.2,0],[1.05,0.2,1],[1.25,0.2,0],[1.45,0.2,1],[1.65,0.2,0],
  [1.85,0.2,1],[2.05,0.2,0],[2.25,0.2,1],[2.45,0.2,0],[2.65,0.2,1],[2.85,0.2,0],[3.05,0.2,1],[3.25,0.2,0],[3.45,0.2,1],[3.65,0.2,0],[3.85,0.2,1],
  [-0.1,0.0,0],[0.15,0.0,1],[0.4,0.0,0],[0.65,0.0,1],[0.9,0.0,0],[1.15,0.0,1],[1.4,0.0,0],[1.65,0.0,1],[1.9,0.0,0],[2.15,0.0,1],
  [2.4,0.0,0],[2.65,0.0,1],[2.9,0.0,0],[3.15,0.0,1],[3.4,0.0,0],[3.65,0.0,1]
];
var bloodGrayFill = [
  [-0.05,2.07,0],[0.15,2.07,1],[0.35,2.07,0],[0.55,2.07,1],[0.75,2.07,0],[0.95,2.07,1],[1.15,2.07,0],
  [-0.05,1.82,1],[0.15,1.82,0],[0.35,1.82,1],[0.55,1.82,0],[0.75,1.82,1],[0.95,1.82,0],[1.15,1.82,1],[1.35,1.82,0],
  [-0.05,1.57,0],[0.15,1.57,1],[0.35,1.57,0],[0.55,1.57,1],[0.75,1.57,0],[0.95,1.57,1],[1.15,1.57,0],[1.35,1.57,1],
  [-0.05,1.32,1],[0.15,1.32,0],[0.35,1.32,1],[0.55,1.32,0],[0.75,1.32,1],[0.95,1.32,0],[1.15,1.32,1],[1.35,1.32,0],
  [-0.05,1.07,0],[0.15,1.07,1],[0.35,1.07,0],[0.55,1.07,1],[0.75,1.07,0],[0.95,1.07,1],[1.15,1.07,0],[1.35,1.07,1],
  [-0.05,0.82,1],[0.15,0.82,0],[0.35,0.82,1],[0.55,0.82,0],[0.75,0.82,1],[0.95,0.82,0],[1.15,0.82,1],[1.35,0.82,0],[1.55,0.82,1],[1.75,0.82,0],
  [-0.05,0.57,0],[0.15,0.57,1],[0.35,0.57,0],[0.55,0.57,1],[0.75,0.57,0],[0.95,0.57,1],[1.15,0.57,0],[1.35,0.57,1],[1.55,0.57,0],
  [1.75,0.57,1],[1.95,0.57,0],[2.2,0.6,1],[2.45,0.6,0],[2.7,0.6,1],
  [-0.05,0.32,1],[0.15,0.32,0],[0.35,0.32,1],[0.55,0.32,0],[0.75,0.32,1],[0.95,0.32,0],[1.15,0.32,1],[1.35,0.32,0],[1.55,0.32,1],[1.75,0.32,0],
  [1.95,0.32,1],[2.15,0.32,0],[2.35,0.32,1],[2.55,0.32,0],[2.75,0.32,1],[2.95,0.32,0],[3.15,0.32,1],[3.35,0.32,0],[3.55,0.32,1],[3.75,0.32,0],
  [-0.05,0.1,0],[0.2,0.1,1],[0.45,0.1,0],[0.7,0.1,1],[0.95,0.1,0],[1.2,0.1,1],[1.45,0.1,0],[1.7,0.1,1],[1.95,0.1,0],
  [2.2,0.1,1],[2.45,0.1,0],[2.7,0.1,1],[2.95,0.1,0],[3.2,0.1,1],[3.45,0.1,0],[3.7,0.1,1],
  [2.7,3.45,0],[2.9,3.5,0],[3.1,3.4,0],[2.8,3.1,0],[3.0,3.1,0],[2.75,2.8,0],[2.9,2.85,0],[3.1,2.75,0],[2.85,2.5,0],[2.7,2.25,0]
];
var bloodRed = [
  [3.95,0.9,0],[4.1,0.95,0],[4.3,0.9,0],[4.5,0.95,0],[4.0,0.6,0],[4.2,0.65,0],[4.4,0.6,0],[4.1,0.35,0],[4.3,0.3,0],[4.5,0.4,0],
  [4.2,0.05,0],[4.35,-0.05,0],[4.0,0.15,0],
  [4.75,1.0,0],[4.9,1.1,0],[5.05,0.95,0],[5.2,0.8,0],[4.85,0.7,0],[5.0,0.6,0],[5.3,0.5,0],[5.1,1.15,1],
  [5.5,0.2,0],[5.65,0.25,0],[5.6,0.6,0],[5.8,0.5,0],[5.9,0.2,0],[6.0,0.7,0],[6.1,0.4,0],[6.2,0.1,0],[6.3,0.6,0],[6.4,0.3,0],
  [6.5,0.7,0],[6.0,-0.1,0],[5.85,0.0,0],[6.2,-0.2,0],[6.55,0.1,0],[5.7,-0.1,0],[6.35,0.75,0],
  [6.7,0.14,0],[6.9,0.0,0],[7.2,-0.1,0],[7.05,0.1,0],[7.18,0.65,0],[7.1,0.55,0],[7.25,0.6,0],[7.72,0.42,0],[8.26,0.5,0],
  [4.0,0.8,0],[4.2,0.8,0],[4.4,0.75,0],[4.1,0.5,0],[4.3,0.45,0],[4.5,0.55,0],[4.2,0.25,0],[4.4,0.2,0],[4.05,0.4,0],
  [5.6,0.45,0],[5.75,0.3,0],[5.95,0.45,0],[6.05,0.25,0],[6.15,0.6,0],[6.25,0.35,0],[5.95,0.05,0],[6.1,0.0,0],[6.3,0.15,0],
  [6.45,0.5,0],[5.8,0.7,0],[6.4,0.0,0],[4.95,0.85,0],[5.15,0.65,0]
];
var bloodGreen = [
  [5.09,1.32,1],[5.8,1.93,1],[5.6,1.7,1],[5.95,1.75,1],[5.45,1.4,1],[5.7,1.45,1],[5.9,1.5,1],[6.1,1.45,1],[6.3,1.2,1],[5.5,1.1,1],
  [5.75,1.15,1],[6.0,1.2,1],[6.2,1.0,1],[6.45,1.0,1],[5.3,1.0,1],[5.65,0.95,1],[5.4,0.65,1],[5.85,1.6,1],[6.05,1.65,1],[5.55,1.55,1],
  [5.7,1.75,1],[5.85,1.8,1],[5.75,1.55,1],[5.95,1.35,1],[6.15,1.3,1],[5.6,1.3,1],[5.85,1.3,1],[6.25,1.1,1],[6.35,1.05,1],[5.6,1.05,1],[5.9,1.05,1],[5.45,1.2,1]
];

var grayData = [ba9Gray.concat(ba9GrayFill), cortexGray.concat(cortexGrayFill), caudateGray.concat(caudateGrayFill),
                putamenGray.concat(putamenGrayFill), bloodGray.concat(bloodGrayFill)];
var redData = [ba9Red, cortexRed, caudateRed, putamenRed, bloodRed];
var greenData = [ba9Green, cortexGreen, caudateGreen, putamenGreen, bloodGreen];

// layout (pixels)
var width = 1146, height = 626;
var boxes = [
  {left: 117,   top: 53,  w: 190, h: 190, xd: [-0.3, 8.64], yd: [-0.29, 8.43]},
  {left: 397.7, top: 53,  w: 190, h: 190, xd: [-0.3, 8.64], yd: [-0.29, 8.43]},
  {left: 678.5, top: 53,  w: 190, h: 190, xd: [-0.3, 8.64], yd: [-0.29, 8.43]},
  {left: 959.3, top: 53,  w: 190, h: 190, xd: [-0.3, 8.64], yd: [-0.29, 8.43]},
  {left: 116,   top: 371, w: 191, h: 192, xd: [-0.3, 8.54], yd: [-0.33, 8.35]}
];
var colors = {gray: "#999999", red: "#ff0000", green: "#00ff00"};

var svg = d3.select("#chart").append("svg")
    .attr("width", width)
    .attr("height", height);

function triangle(d) {
  return d[2] ? "M0,-5.6L5.6,3.6L-5.6,3.6Z" : "M0,5.6L5.6,-3.6L-5.6,-3.6Z";
}

boxes.forEach(function(b, i) {
  var x = d3.scaleLinear().domain(b.xd).range([0, b.w]);
  var y = d3.scaleLinear().domain(b.yd).range([b.h, 0]);
  var g = svg.append("g").attr("transform", "translate(" + b.left + "," + b.top + ")");

  g.append("clipPath").attr("id", "clip" + i)
    .append("rect").attr("width", b.w).attr("height", b.h);

  var pts = g.append("g").attr("clip-path", "url(#clip" + i + ")");
  [["gray", grayData[i]], ["red", redData[i]], ["green", greenData[i]]].forEach(function(s) {
    pts.append("g").selectAll("path")
      .data(s[1]).enter().append("path")
        .attr("transform", function(d) { return "translate(" + x(d[0]) + "," + y(d[1]) + ")"; })
        .attr("d", triangle)
        .attr("fill", "none")
        .attr("stroke", colors[s[0]])
        .attr("stroke-width", 1);
  });

  // x axis
  var xa = g.append("g").attr("transform", "translate(0," + b.h + ")")
    .call(d3.axisBottom(x).tickValues(ticks).tickSize(9).tickFormat(d3.format("d")));
  xa.select(".domain").remove();
  xa.selectAll("text").attr("y", 30).attr("dy", 0);

  // y axis, labels rotated like R
  var ya = g.append("g")
    .call(d3.axisLeft(y).tickValues(ticks).tickSize(9).tickFormat(d3.format("d")));
  ya.select(".domain").remove();
  ya.selectAll("text")
    .attr("transform", "rotate(-90)")
    .attr("x", 0).attr("y", -20).attr("dy", 0)
    .attr("text-anchor", "middle");

  g.append("rect").attr("width", b.w).attr("height", b.h)
    .attr("fill", "none").attr("stroke", "#000").attr("stroke-width", 1);

  g.append("text")
    .attr("x", b.w - 9).attr("y", 29)
    .attr("text-anchor", "end")
    .style("font-size", "15px")
    .text(tissues[i]);

  var rowB = i === 4;
  g.append("text")
    .attr("x", b.w / 2).attr("y", b.h + (rowB ? 57 : 61))
    .attr("text-anchor", "middle")
    .attr("textLength", 156).attr("lengthAdjust", "spacing")
    .style("font-size", "15px")
    .text("Significance: HD GWA");

  g.append("text")
    .attr("transform", "translate(" + (rowB ? -43 : -54) + "," + (b.h / 2) + ") rotate(-90)")
    .attr("text-anchor", "middle")
    .attr("textLength", rowB ? 178 : 190).attr("lengthAdjust", "spacing")
    .style("font-size", rowB ? "15px" : "16px")
    .text("Significance: GTEx eQTL");
});

// row letters and gene labels
svg.append("text").attr("x", 52).attr("y", 27)
  .style("font-size", "18px").style("font-weight", "bold").text("A");
svg.append("text").attr("x", 50).attr("y", 335)
  .style("font-size", "18px").style("font-weight", "bold").text("B");
[152, 460].forEach(function(cy) {
  svg.append("text")
    .attr("transform", "translate(27," + cy + ") rotate(-90)")
    .attr("text-anchor", "middle")
    .style("font-size", "18px").style("font-style", "italic")
    .text("LIG1");
});
</script>
</body>
</html>
